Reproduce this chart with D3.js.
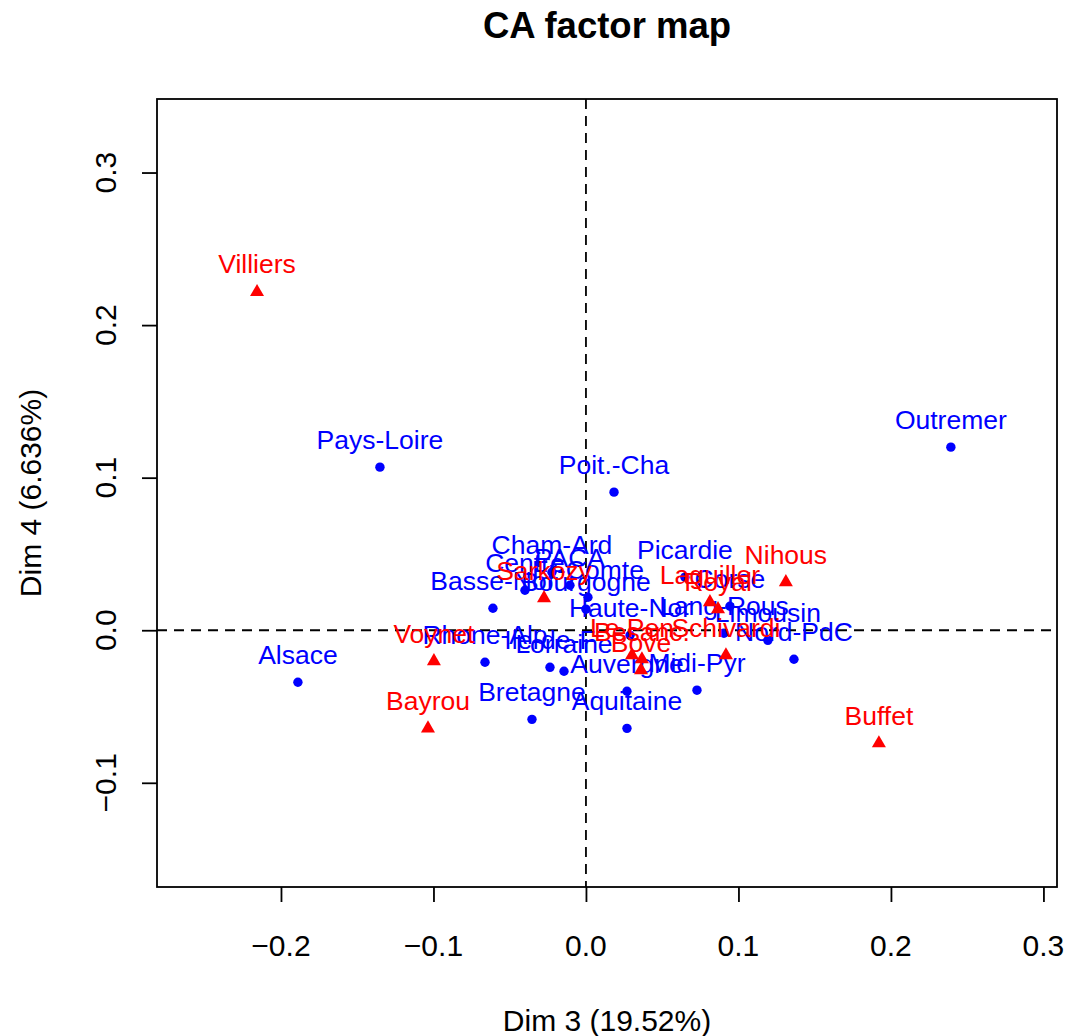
<!DOCTYPE html>
<html>
<head>
<meta charset="utf-8">
<script src="https://cdn.jsdelivr.net/npm/d3@7"></script>
<style>
  html, body { margin: 0; padding: 0; background: #fff; }
  text { font-family: "Liberation Sans", Arial, Helvetica, sans-serif; }
</style>
</head>
<body>
<svg id="chart" width="1069" height="1036"></svg>
<script>
// Row points (regions) — Dim 3, Dim 4
const rowLabels = ["Alsace","Aquitaine","Auvergne","Basse-Nor","Bourgogne","Bretagne","Centre","Cham-Ard","Corse","Fr-Comte","Haute-Nor","Ile-de-F","Lang-Rous","Limousin","Lorraine","Midi-Pyr","Nord-PdC","Pays-Loire","Picardie","Poit.-Cha","PACA","Rhone-Alp","Outremer"];
const rowDim3 = [-0.1889, 0.0269, 0.0269, -0.0610, 0.0000, -0.0354, -0.0400, -0.0223, 0.0944, 0.0013, 0.0289, -0.0236, 0.0905, 0.1193, -0.0144, 0.0728, 0.1364, -0.1351, 0.0649, 0.0184, -0.0105, -0.0662, 0.2393];
const rowDim4 = [-0.0341, -0.0643, -0.0400, 0.0144, 0.0138, -0.0584, 0.0262, 0.0380, 0.0157, 0.0216, -0.0033, -0.0243, -0.0020, -0.0066, -0.0269, -0.0393, -0.0190, 0.1069, 0.0348, 0.0905, 0.0295, -0.0210, 0.1200];

// Column points (candidates)
const colLabels = ["Villiers","Buffet","Nihous","Bayrou","Voynet","Sarkozy","Royal","Laguiller","Schivardi","Le Pen","Besanc.","Bove"];
const colDim3 = [-0.2157, 0.1921, 0.1311, -0.1036, -0.0997, -0.0275, 0.0866, 0.0813, 0.0918, 0.0302, 0.0367, 0.0361];
const colDim4 = [0.2217, -0.0741, 0.0315, -0.0643, -0.0203, 0.0210, 0.0138, 0.0184, -0.0164, -0.0164, -0.0190, -0.0262];

const xTicks = [-0.2, -0.1, 0.0, 0.1, 0.2, 0.3];
const yTicks = [-0.1, 0.0, 0.1, 0.2, 0.3];
const xDomain = [-0.2813, 0.3089];
const yDomain = [-0.1683, 0.3482];
const title = "CA factor map";
const xTitle = "Dim 3 (19.52%)";
const yTitle = "Dim 4 (6.636%)";

const box = {left: 157, right: 1057, top: 99, bottom: 887};
const svg = d3.select("#chart");
const x = d3.scaleLinear().domain(xDomain).range([box.left, box.right]);
const y = d3.scaleLinear().domain(yDomain).range([box.bottom, box.top]);
const fmt = d => d3.format(".1f")(d).replace("-", "\u2212");
const lw = 1.8;
const axisFont = 30;
const labelFont = 26.5;

// Reference dashed lines
svg.append("line").attr("x1", x(0)).attr("x2", x(0)).attr("y1", box.top).attr("y2", box.bottom)
  .attr("stroke", "#000").attr("stroke-width", lw).attr("stroke-dasharray", "10,7");
svg.append("line").attr("x1", box.left).attr("x2", box.right).attr("y1", y(0)).attr("y2", y(0))
  .attr("stroke", "#000").attr("stroke-width", lw).attr("stroke-dasharray", "10,7");

// Axes
const xAxis = svg.append("g").attr("transform", `translate(0,${box.bottom})`)
  .call(d3.axisBottom(x).tickValues(xTicks).tickSize(15).tickPadding(0).tickFormat(() => ""));
xAxis.select(".domain").remove();
xAxis.selectAll("line").attr("stroke-width", lw);
svg.selectAll(".xlab").data(xTicks).enter().append("text")
  .attr("x", d => x(d)).attr("y", 956).attr("text-anchor", "middle")
  .attr("font-size", axisFont).text(fmt);

const yAxis = svg.append("g").attr("transform", `translate(${box.left},0)`)
  .call(d3.axisLeft(y).tickValues(yTicks).tickSize(15).tickFormat(() => ""));
yAxis.select(".domain").remove();
yAxis.selectAll("line").attr("stroke-width", lw);
svg.selectAll(".ylab").data(yTicks).enter().append("text")
  .attr("transform", d => `translate(116,${y(d)}) rotate(-90)`)
  .attr("text-anchor", "middle").attr("font-size", axisFont).text(fmt);

// Box
svg.append("rect").attr("x", box.left).attr("y", box.top)
  .attr("width", box.right - box.left).attr("height", box.bottom - box.top)
  .attr("fill", "none").attr("stroke", "#000").attr("stroke-width", lw);

// Titles
svg.append("text").attr("x", (box.left + box.right) / 2).attr("y", 38)
  .attr("text-anchor", "middle").attr("font-size", 36.5).attr("font-weight", "bold").text(title);
svg.append("text").attr("x", (box.left + box.right) / 2).attr("y", 1031)
  .attr("text-anchor", "middle").attr("font-size", axisFont).text(xTitle);
svg.append("text").attr("transform", `translate(41,${(box.top + box.bottom) / 2}) rotate(-90)`)
  .attr("text-anchor", "middle").attr("font-size", axisFont).text(yTitle);

// Rows (blue)
const rows = rowLabels.map((l, i) => ({label: l, d3v: rowDim3[i], d4v: rowDim4[i]}));
const cols = colLabels.map((l, i) => ({label: l, d3v: colDim3[i], d4v: colDim4[i]}));

svg.append("g").selectAll("circle").data(rows).enter().append("circle")
  .attr("cx", d => x(d.d3v)).attr("cy", d => y(d.d4v)).attr("r", 4.7).attr("fill", "#0000ff");
svg.append("g").selectAll("text").data(rows).enter().append("text")
  .attr("x", d => x(d.d3v)).attr("y", d => y(d.d4v) - 18.5).attr("text-anchor", "middle")
  .attr("font-size", labelFont).attr("fill", "#0000ff").text(d => d.label);

// Columns (red triangles)
const s = 5.2;
const tri = `M0,${-1.5551 * s}L${1.3468 * s},${0.7776 * s}L${-1.3468 * s},${0.7776 * s}Z`;
svg.append("g").selectAll("path").data(cols).enter().append("path")
  .attr("d", tri).attr("transform", d => `translate(${x(d.d3v)},${y(d.d4v)})`).attr("fill", "#ff0000");
svg.append("g").selectAll("text").data(cols).enter().append("text")
  .attr("x", d => x(d.d3v)).attr("y", d => y(d.d4v) - 18.5).attr("text-anchor", "middle")
  .attr("font-size", labelFont).attr("fill", "#ff0000").text(d => d.label);
</script>
</body>
</html>
